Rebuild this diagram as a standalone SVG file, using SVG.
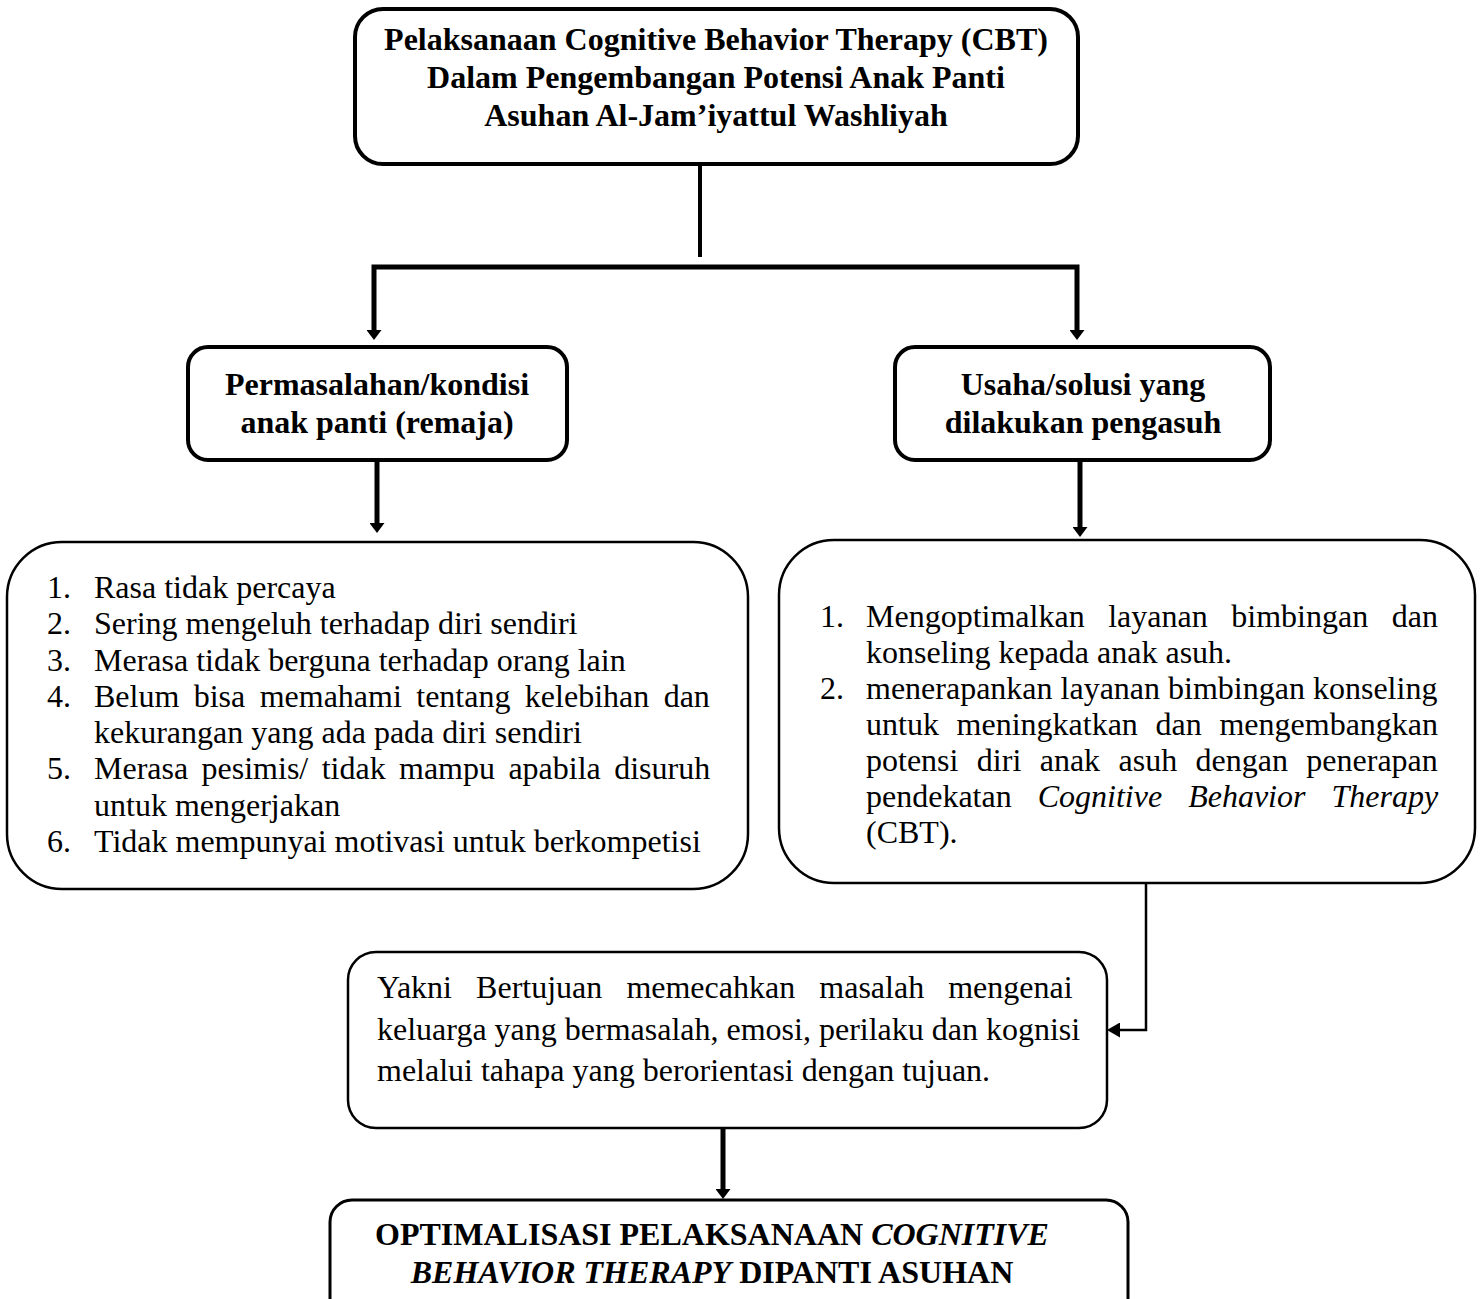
<svg xmlns="http://www.w3.org/2000/svg" width="1483" height="1299" viewBox="0 0 1483 1299">
<defs>
<style>
.box{fill:#fff;stroke:#000}
.thick{stroke-width:4}
.thin{stroke-width:2.5}
.t{font-family:"Liberation Serif","Times New Roman",serif;font-size:32px;fill:#000}
.b{font-weight:bold}
.c{text-anchor:middle}
.i{font-style:italic}
.con{fill:none;stroke:#000;stroke-linejoin:miter}
</style>
<marker id="ah" viewBox="0 0 10 15" refX="2" refY="7.5" markerWidth="10" markerHeight="15" markerUnits="userSpaceOnUse" orient="auto">
<path d="M0,0 L10,7.5 L0,15 z" fill="#000"/>
</marker>
<marker id="ahs" viewBox="0 0 13 15" refX="3" refY="7.5" markerWidth="13" markerHeight="15" markerUnits="userSpaceOnUse" orient="auto">
<path d="M0,0 L13,7.5 L0,15 z" fill="#000"/>
</marker>
</defs>
<rect width="1483" height="1299" fill="#fff"/>

<g id="connectors">
<path class="con" d="M700,165 V257" stroke-width="4"/>
<path class="con" d="M700,267 H374 V332" stroke-width="5" marker-end="url(#ah)"/>
<path class="con" d="M700,267 H1077 V332" stroke-width="5" marker-end="url(#ah)"/>
<path class="con" d="M377,460 V525" stroke-width="5" marker-end="url(#ah)"/>
<path class="con" d="M1080,460 V529" stroke-width="5" marker-end="url(#ah)"/>
<path class="con" d="M1146,883 V1030 H1117" stroke-width="2.5" marker-end="url(#ahs)"/>
<path class="con" d="M723,1128 V1191" stroke-width="5" marker-end="url(#ah)"/>
</g>

<g id="node-title">
<rect class="box thick" x="355" y="9" width="723" height="155" rx="28"/>
<text class="t b c" x="716" y="50">Pelaksanaan Cognitive Behavior Therapy (CBT)</text>
<text class="t b c" x="716" y="88">Dalam Pengembangan Potensi Anak Panti</text>
<text class="t b c" x="716" y="126">Asuhan Al-Jam’iyattul Washliyah</text>
</g>

<g id="node-permasalahan">
<rect class="box thick" x="188" y="347" width="379" height="113" rx="20"/>
<text class="t b c" x="377" y="395">Permasalahan/kondisi</text>
<text class="t b c" x="377" y="433">anak panti (remaja)</text>
</g>

<g id="node-usaha">
<rect class="box thick" x="895" y="347" width="375" height="113" rx="20"/>
<text class="t b c" x="1083" y="395">Usaha/solusi yang</text>
<text class="t b c" x="1083" y="433">dilakukan pengasuh</text>
</g>

<g id="node-list-masalah">
<rect class="box thin" x="7" y="542" width="741" height="347" rx="55"/>
<text class="t" x="47" y="598">1.</text>
<text class="t" x="94" y="598">Rasa tidak percaya</text>
<text class="t" x="47" y="634">2.</text>
<text class="t" x="94" y="634">Sering mengeluh terhadap diri sendiri</text>
<text class="t" x="47" y="671">3.</text>
<text class="t" x="94" y="671">Merasa tidak berguna terhadap orang lain</text>
<text class="t" x="47" y="707">4.</text>
<text class="t" x="94" y="707" word-spacing="6.4">Belum bisa memahami tentang kelebihan dan</text>
<text class="t" x="94" y="743">kekurangan yang ada pada diri sendiri</text>
<text class="t" x="47" y="779">5.</text>
<text class="t" x="94" y="779" word-spacing="5.4">Merasa pesimis/ tidak mampu apabila disuruh</text>
<text class="t" x="94" y="816">untuk mengerjakan</text>
<text class="t" x="47" y="852">6.</text>
<text class="t" x="94" y="852">Tidak mempunyai motivasi untuk berkompetisi</text>
</g>

<g id="node-list-usaha">
<rect class="box thin" x="779" y="540" width="696" height="343" rx="55"/>
<text class="t" x="820" y="627">1.</text>
<text class="t" x="866" y="627" word-spacing="15.6">Mengoptimalkan layanan bimbingan dan</text>
<text class="t" x="866" y="663">konseling kepada anak asuh.</text>
<text class="t" x="820" y="699">2.</text>
<text class="t" x="866" y="699">menerapankan layanan bimbingan konseling</text>
<text class="t" x="866" y="735" word-spacing="9.7">untuk meningkatkan dan mengembangkan</text>
<text class="t" x="866" y="771" word-spacing="10.4">potensi diri anak asuh dengan penerapan</text>
<text class="t" x="866" y="807" word-spacing="18">pendekatan <tspan class="i">Cognitive Behavior Therapy</tspan></text>
<text class="t" x="866" y="843">(CBT).</text>
</g>

<g id="node-tujuan">
<rect class="box thin" x="348" y="952" width="759" height="176" rx="28"/>
<text class="t" x="377" y="998" word-spacing="16.1">Yakni Bertujuan memecahkan masalah mengenai</text>
<text class="t" x="377" y="1040">keluarga yang bermasalah, emosi, perilaku dan kognisi</text>
<text class="t" x="377" y="1081">melalui tahapa yang berorientasi dengan tujuan.</text>
</g>

<g id="node-optimalisasi">
<rect class="box" stroke-width="3" x="330" y="1200" width="798" height="130" rx="22"/>
<text class="t b c" x="712" y="1245">OPTIMALISASI PELAKSANAAN <tspan class="i">COGNITIVE</tspan></text>
<text class="t b c" x="712" y="1283"><tspan class="i">BEHAVIOR THERAPY</tspan> DIPANTI ASUHAN</text>
</g>
</svg>
